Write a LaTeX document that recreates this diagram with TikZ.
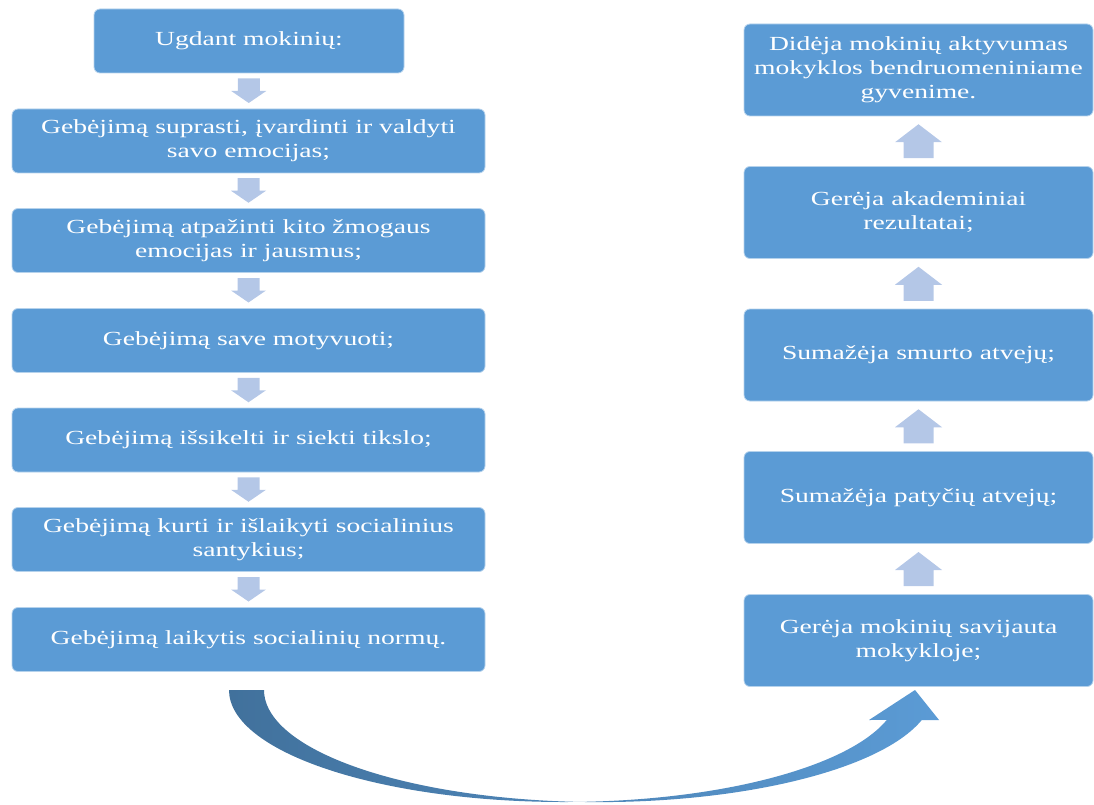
\documentclass[tikz,border=0pt]{standalone}
\usepackage{fontspec}
\setmainfont{Liberation Serif}[FakeStretch=1.38]
\usetikzlibrary{calc}
\definecolor{boxblue}{HTML}{5B9BD5}
\definecolor{arrlight}{HTML}{B4C7E7}
\definecolor{curvedark}{HTML}{41719C}
\begin{document}
\begin{tikzpicture}[x=1pt,y=-1pt,
  box/.style={draw=white!55!boxblue, line width=0.8pt, fill=boxblue, rounded corners=6pt,
    text=white, align=center, inner sep=0pt, font=\fontsize{20}{24}\selectfont},
  lbox/.style={box, minimum width=473pt, minimum height=64pt},
  rbox/.style={box, minimum width=349pt, minimum height=92pt},
  downarr/.pic={\fill[arrlight] (-11,-12.5) -- (11,-12.5) -- (11,0) -- (17.5,0) -- (0,12) -- (-17.5,0) -- (-11,0) -- cycle;},
  uparr/.pic={\fill[arrlight] (-15,17) -- (15,17) -- (15,1) -- (23.5,1) -- (0,-17) -- (-23.5,1) -- (-15,1) -- cycle;}
]
\useasboundingbox (0,0) rectangle (1094,805);

% left column
\node[box, minimum width=310pt, minimum height=64pt] (b1) at (249,41) {Ugdant mokinių:};
\node[lbox] (b2) at (248.5,141) {Gebėjimą suprasti, įvardinti ir valdyti\\savo emocijas;};
\node[lbox] (b3) at (248.5,240.5) {Gebėjimą atpažinti kito žmogaus\\emocijas ir jausmus;};
\node[lbox] (b4) at (248.5,340.5) {Gebėjimą save motyvuoti;};
\node[lbox] (b5) at (248.5,440) {Gebėjimą išsikelti ir siekti tikslo;};
\node[lbox] (b6) at (248.5,539.5) {Gebėjimą kurti ir išlaikyti socialinius\\santykius;};
\node[lbox] (b7) at (248.5,639.5) {Gebėjimą laikytis socialinių normų.};

% right column
\node[rbox] (r1) at (918.5,70) {Didėja mokinių aktyvumas\\mokyklos bendruomeniniame\\gyvenime.};
\node[rbox] (r2) at (918.5,212.5) {Gerėja akademiniai\\rezultatai;};
\node[rbox] (r3) at (918.5,355) {Sumažėja smurto atvejų;};
\node[rbox] (r4) at (918.5,497.5) {Sumažėja patyčių atvejų;};
\node[rbox] (r5) at (918.5,640.5) {Gerėja mokinių savijauta\\mokykloje;};

% down arrows
\foreach \a/\b in {b1/b2,b2/b3,b3/b4,b4/b5,b5/b6,b6/b7}
  \pic at ($(\a.south)!0.5!(\b.north)$) {downarr};
% up arrows
\foreach \a/\b in {r1/r2,r2/r3,r3/r4,r4/r5}
  \pic at ($(\a.south)!0.5!(\b.north)$) {uparr};

% curved arrow from b7 to r5
\shade[left color=curvedark, right color=boxblue]
  (229,690) arc[start angle=180, end angle=15.5, x radius=335, y radius=112]
  -- (869,720) -- (915,690) -- (939,720) -- (921.8,720)
  arc[start angle=15.5, end angle=180, x radius=335, y radius=112] -- cycle;
\end{tikzpicture}
\end{document}
